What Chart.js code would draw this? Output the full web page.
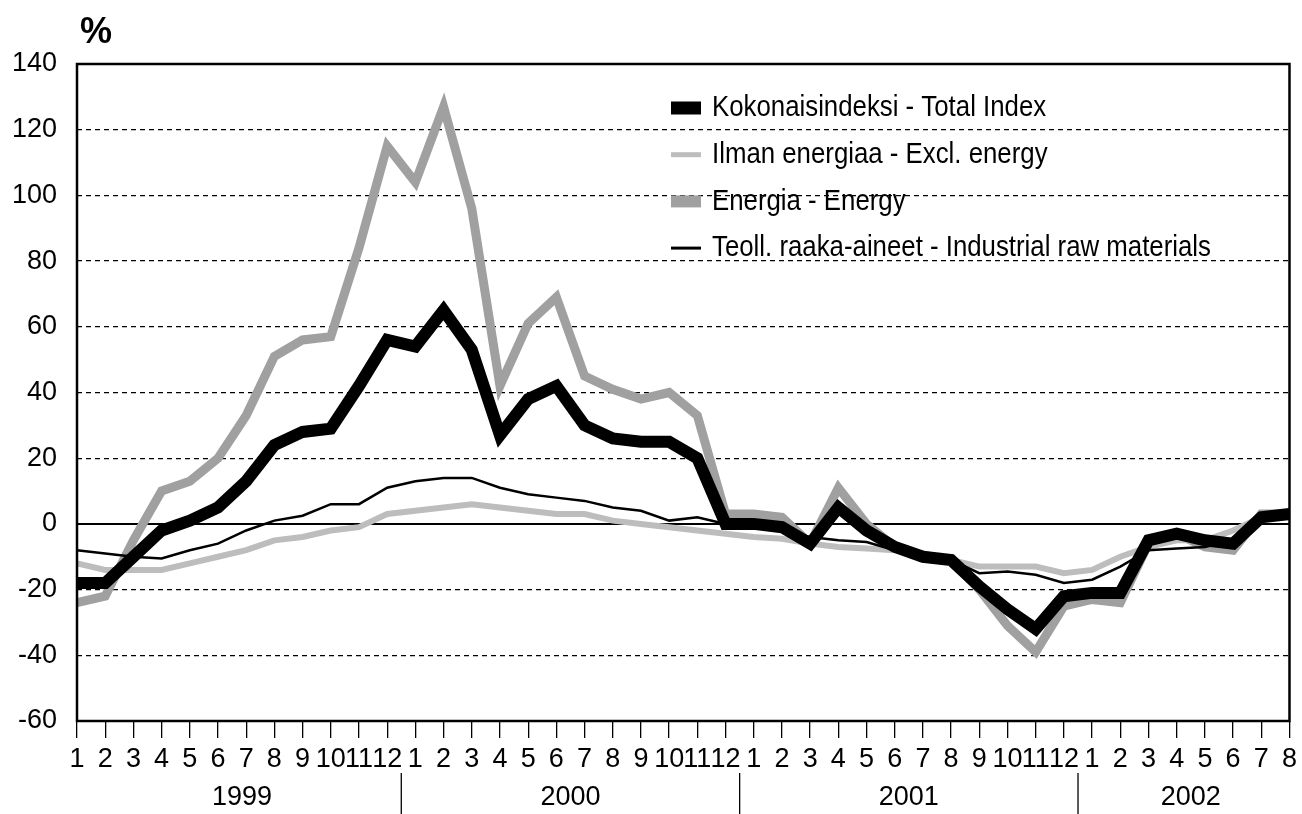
<!DOCTYPE html>
<html>
<head>
<meta charset="utf-8">
<script src="https://cdn.jsdelivr.net/npm/chart.js@4.4.0/dist/chart.umd.min.js"></script>
<style>
  html, body { margin: 0; padding: 0; background: #fff; }
  canvas { display: block; }
</style>
</head>
<body>
<canvas id="indexChart" width="1302" height="814"></canvas>
<script>
// Months 1999-1 ... 2002-8
const months = [
  '1','2','3','4','5','6','7','8','9','10','11','12',
  '1','2','3','4','5','6','7','8','9','10','11','12',
  '1','2','3','4','5','6','7','8','9','10','11','12',
  '1','2','3','4','5','6','7','8'
];
const years = ['1999', '2000', '2001', '2002'];
const yTicks = [-60, -40, -20, 0, 20, 40, 60, 80, 100, 120, 140];

const totalIndex = [
  -18, -18, -10, -2, 1, 5, 13, 24, 28, 29, 42, 56,
  54, 65, 53, 27, 38, 42, 30, 26, 25, 25, 20, 0,
  0, -1, -6, 5, -2, -7, -10, -11, -19, -26, -32, -22,
  -21, -21, -5, -3, -5, -6, 2, 3
];
const exclEnergy = [
  -12, -14, -14, -14, -12, -10, -8, -5, -4, -2, -1, 3,
  4, 5, 6, 5, 4, 3, 3, 1, 0, -1, -2, -3,
  -4, -4.5, -6, -7, -7.5, -8, -9, -11, -13, -13, -13, -15,
  -14, -10, -7, -5, -5, -2, 2, 2
];
const energy = [
  -24, -22, -5, 10, 13, 20, 33, 51, 56, 57, 84, 115,
  104, 127, 96, 42, 61, 69, 45, 41, 38, 40, 33, 3,
  3, 2, -6, 11, 0, -7, -10, -11, -20, -31, -39, -25,
  -23, -24, -6, -3, -7, -8, 3, 3
];
const rawMaterials = [
  -8, -9, -10, -10.5, -8, -6, -2, 1, 2.5, 6, 6, 11,
  13, 14, 14, 11, 9, 8, 7, 5, 4, 1, 2, 0,
  -1, -2, -4, -5, -5.5, -8, -9.5, -11, -15, -14.5, -15.5, -18,
  -17, -13, -8, -7.5, -7, -5, 2.5, 2.5
];

const seriesLabels = [
  'Kokonaisindeksi - Total Index',
  'Ilman energiaa - Excl. energy',
  'Energia - Energy',
  'Teoll. raaka-aineet - Industrial raw materials'
];

const TICK_FONT = { family: '"Liberation Sans", Arial, sans-serif', size: 27 };

// zero line, box, year row, legend and % sign
const decorations = {
  id: 'decorations',
  beforeDatasetsDraw(chart) {
    const { ctx, chartArea, scales } = chart;
    const y0 = scales.y.getPixelForValue(0);
    ctx.save();
    ctx.strokeStyle = '#000';
    ctx.lineWidth = 2;
    ctx.beginPath();
    ctx.moveTo(chartArea.left, y0);
    ctx.lineTo(chartArea.right, y0);
    ctx.stroke();
    ctx.restore();
  },
  afterDatasetsDraw(chart) {
    const { ctx, chartArea } = chart;
    ctx.save();
    ctx.strokeStyle = '#000';
    ctx.lineWidth = 2.5;
    ctx.strokeRect(chartArea.left, chartArea.top,
      chartArea.right - chartArea.left, chartArea.bottom - chartArea.top);
    ctx.restore();
  },
  afterDraw(chart) {
    const { ctx, chartArea, scales } = chart;
    const x = scales.x;
    ctx.save();

    // year separators and year labels
    ctx.strokeStyle = '#000';
    ctx.lineWidth = 1.3;
    ctx.fillStyle = '#000';
    ctx.font = '27px "Liberation Sans", Arial, sans-serif';
    ctx.textAlign = 'center';
    ctx.textBaseline = 'middle';
    let start = 0;
    years.forEach((yr, k) => {
      let end = start;
      while (end + 1 < months.length && months[end + 1] !== '1') end++;
      if (end + 1 < months.length) {
        const sx = (x.getPixelForValue(end) + x.getPixelForValue(end + 1)) / 2;
        ctx.beginPath();
        ctx.moveTo(sx, chartArea.bottom + 52);
        ctx.lineTo(sx, chartArea.bottom + 93);
        ctx.stroke();
      }
      const cx = (x.getPixelForValue(start) + x.getPixelForValue(end)) / 2;
      ctx.fillText(yr, cx + (k === 0 ? 10 : 0), chartArea.bottom + 77);
      start = end + 1;
    });

    // percent sign
    ctx.font = 'bold 36px "Liberation Sans", Arial, sans-serif';
    ctx.fillText('%', chartArea.left + 19, chartArea.top - 31);

    // legend (condensed text like the original narrow face)
    const symH = [13, 5, 12, 3];
    const lx = chartArea.left + 594;
    const ly = chartArea.top + 44;
    const gap = 46.7;
    ctx.textAlign = 'left';
    ctx.font = '30px "Liberation Sans", Arial, sans-serif';
    chart.data.datasets.forEach((ds, i) => {
      const cy = ly + i * gap;
      ctx.fillStyle = ds.borderColor;
      ctx.fillRect(lx, cy - symH[i] / 2, 30, symH[i]);
      ctx.fillStyle = '#000';
      ctx.save();
      ctx.translate(lx + 41, cy);
      ctx.scale(0.86, 1);
      ctx.fillText(ds.label, 0, 0);
      ctx.restore();
    });
    ctx.restore();
  }
};

const ctx = document.getElementById('indexChart').getContext('2d');
new Chart(ctx, {
  type: 'line',
  data: {
    labels: months,
    datasets: [
      { label: seriesLabels[0], data: totalIndex, borderColor: '#000', borderWidth: 12, order: 0 },
      { label: seriesLabels[1], data: exclEnergy, borderColor: '#bdbdbd', borderWidth: 6, order: 2 },
      { label: seriesLabels[2], data: energy, borderColor: '#a0a0a0', borderWidth: 9, order: 3 },
      { label: seriesLabels[3], data: rawMaterials, borderColor: '#000', borderWidth: 2.5, order: 1 }
    ]
  },
  options: {
    responsive: false,
    animation: false,
    devicePixelRatio: 1,
    layout: { padding: { top: 64, right: 11, left: 0, bottom: 0 } },
    elements: {
      point: { radius: 0 },
      line: { tension: 0, fill: false, borderCapStyle: 'butt', borderJoinStyle: 'miter' }
    },
    plugins: {
      legend: { display: false },
      tooltip: { enabled: false },
      title: { display: false }
    },
    scales: {
      x: {
        type: 'category',
        offset: false,
        border: { display: false },
        grid: { drawOnChartArea: false, drawTicks: true, tickLength: 17, color: '#000', lineWidth: 1.3 },
        ticks: { autoSkip: false, maxRotation: 0, minRotation: 0, color: '#000', font: TICK_FONT, padding: 5 },
        afterFit(s) { s.height = 93; }
      },
      y: {
        min: yTicks[0],
        max: yTicks[yTicks.length - 1],
        border: { display: false, dash: [5, 4] },
        grid: {
          drawTicks: false,
          lineWidth: 1.3,
          color: (c) => (c.tick && (c.tick.value === 0 || c.tick.value === yTicks[0] || c.tick.value === yTicks[yTicks.length - 1])) ? 'rgba(0,0,0,0)' : '#000'
        },
        afterBuildTicks(s) { s.ticks = yTicks.map(v => ({ value: v })); },
        ticks: { color: '#000', font: TICK_FONT, padding: 20 },
        afterFit(s) { s.width = 77; }
      }
    }
  },
  plugins: [decorations]
});
</script>
</body>
</html>
